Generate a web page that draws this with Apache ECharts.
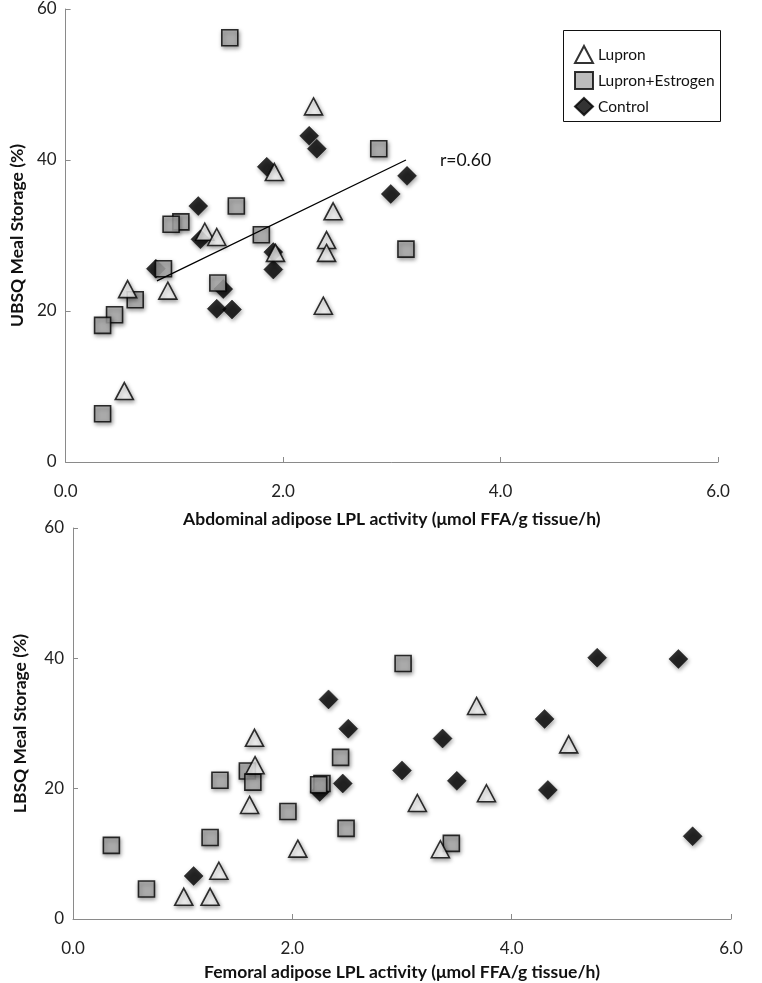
<!DOCTYPE html>
<html>
<head>
<meta charset="utf-8">
<script src="https://cdn.jsdelivr.net/npm/echarts@6/dist/echarts.min.js"></script>
<style>
html,body{margin:0;padding:0;background:#fff;}
#chart{width:762px;height:983px;}
</style>
</head>
<body>
<div id="chart"></div>
<script>
// ---- Data ----
const seriesNames = ['Lupron', 'Lupron+Estrogen', 'Control'];
const xTicks = [0, 2, 4, 6];
const yTicks = [0, 20, 40, 60];

// Top panel: Abdominal LPL vs UBSQ meal storage
const abdLupron = [[2.28,47.1],[1.92,38.4],[2.46,33.2],[1.28,30.5],[1.39,29.8],[1.93,27.7],[2.40,29.4],[2.40,27.7],[0.57,22.9],[0.94,22.7],[2.37,20.7],[0.54,9.4]];
const abdLupronEstrogen = [[1.51,56.2],[2.88,41.5],[1.57,33.9],[1.06,31.8],[0.97,31.5],[1.80,30.1],[3.13,28.2],[0.90,25.6],[1.40,23.7],[0.64,21.5],[0.45,19.5],[0.34,18.1],[0.34,6.4]];
const abdControl = [[2.24,43.2],[2.31,41.5],[1.85,39.1],[3.14,37.9],[2.99,35.5],[1.22,33.9],[1.24,29.5],[1.91,27.8],[1.91,25.5],[0.83,25.6],[1.45,22.9],[1.39,20.3],[1.53,20.2]];
const abdTrend = [[0.84,24.0],[3.13,40.0]];
const abdR = 'r=0.60';

// Bottom panel: Femoral LPL vs LBSQ meal storage
const femLupron = [[1.655,27.8],[1.66,23.6],[1.61,17.5],[2.05,10.8],[1.01,3.4],[1.25,3.4],[1.33,7.4],[3.14,17.8],[3.35,10.7],[3.68,32.7],[3.77,19.3],[4.52,26.8]];
const femLupronEstrogen = [[3.01,39.2],[2.44,24.8],[1.59,22.7],[1.34,21.3],[1.64,21.0],[2.27,20.8],[2.24,20.6],[1.96,16.5],[2.49,13.9],[1.25,12.5],[0.35,11.3],[0.67,4.6],[3.45,11.6]];
const femControl = [[4.78,40.1],[5.52,39.9],[2.33,33.7],[2.51,29.2],[4.30,30.7],[3.37,27.7],[3.00,22.8],[3.50,21.2],[2.46,20.8],[2.25,19.5],[4.33,19.8],[5.65,12.7],[1.10,6.6]];

const titles = {
  topX: 'Abdominal adipose LPL activity (μmol FFA/g tissue/h)',
  topY: 'UBSQ Meal Storage (%)',
  botX: 'Femoral adipose LPL activity (μmol FFA/g tissue/h)',
  botY: 'LBSQ Meal Storage (%)'
};

// ---- Styles ----
const FONT = 'Lato, "Open Sans", sans-serif';
const shadow = {shadowColor:'rgba(0,0,0,0.45)', shadowBlur:4, shadowOffsetX:1, shadowOffsetY:2};
const styles = {
  'Lupron': {symbol:'triangle', symbolSize:[18,17], itemStyle:Object.assign({color:'#ffffff', borderColor:'#000', borderWidth:1.6}, shadow), z:4},
  'Lupron+Estrogen': {symbol:'rect', symbolSize:16, itemStyle:Object.assign({color:'#ababab', borderColor:'#000', borderWidth:1.6}, shadow), z:3},
  'Control': {symbol:'diamond', symbolSize:[19,19], itemStyle:Object.assign({color:'#000000', borderColor:'#000', borderWidth:0.5}, shadow), z:2}
};

function axisCommon(gridIndex) {
  return {
    gridIndex: gridIndex,
    axisLine: {show:true, onZero:false, lineStyle:{color:'#8a8a8a', width:1}},
    axisTick: {show:true, inside:true, length:5, lineStyle:{color:'#8a8a8a'}},
    splitLine: {show:false}
  };
}
function xAxis(gridIndex, name, gap) {
  return Object.assign(axisCommon(gridIndex), {
    type:'value', min:xTicks[0], max:xTicks[xTicks.length-1], interval:xTicks[1]-xTicks[0],
    axisLabel:{formatter:v=>v.toFixed(1), fontSize:17, color:'#222', margin:21, fontFamily:FONT},
    name:name, nameLocation:'middle', nameGap:gap,
    nameTextStyle:{fontSize:17.5, fontWeight:'bold', color:'#111', fontFamily:FONT}
  });
}
function yAxis(gridIndex, name, gap) {
  return Object.assign(axisCommon(gridIndex), {
    type:'value', min:yTicks[0], max:yTicks[yTicks.length-1], interval:yTicks[1]-yTicks[0],
    axisLabel:{fontSize:17, color:'#222', margin:9, fontFamily:FONT},
    name:name, nameLocation:'middle', nameGap:gap, nameRotate:90,
    nameTextStyle:{fontSize:17.5, fontWeight:'bold', color:'#111', fontFamily:FONT}
  });
}
function scatter(name, data, idx) {
  const s = styles[name];
  return {
    type:'scatter', name:name, data:data, xAxisIndex:idx, yAxisIndex:idx,
    symbol:s.symbol, symbolSize:s.symbolSize, itemStyle:s.itemStyle, z:s.z,
    emphasis:{disabled:true}
  };
}

const chart = echarts.init(document.getElementById('chart'), null, {renderer:'canvas'});
chart.setOption({
  animation:false,
  backgroundColor:'#fff',
  textStyle:{fontFamily:FONT},
  grid:[
    {left:61, top:9, width:657, height:453},
    {left:73, top:528, width:658, height:391}
  ],
  xAxis:[xAxis(0, titles.topX, 48), xAxis(1, titles.botX, 44)],
  yAxis:[yAxis(0, titles.topY, 36), yAxis(1, titles.botY, 44)],
  legend:{
    data:seriesNames,
    orient:'vertical', left:569, top:40, itemGap:7, itemWidth:18, itemHeight:17,
    textStyle:{fontSize:15.5, color:'#111', fontFamily:FONT},
    selectedMode:false
  },
  graphic:[{type:'rect', shape:{x:563.5, y:30.5, width:157, height:91}, style:{fill:null, stroke:'#111', lineWidth:1}, z:1}],
  series:[
    scatter('Control', abdControl, 0),
    scatter('Lupron+Estrogen', abdLupronEstrogen, 0),
    scatter('Lupron', abdLupron, 0),
    {
      type:'line', name:'trend', data:abdTrend, xAxisIndex:0, yAxisIndex:0, z:6,
      symbol:'none', lineStyle:{color:'#000', width:1.3}, silent:true,
      label:{show:false},
      endLabel:{show:true, formatter:abdR, fontSize:17.5, color:'#111', distance:34, fontFamily:FONT}
    },
    scatter('Control', femControl, 1),
    scatter('Lupron+Estrogen', femLupronEstrogen, 1),
    scatter('Lupron', femLupron, 1)
  ]
});
</script>
</body>
</html>
